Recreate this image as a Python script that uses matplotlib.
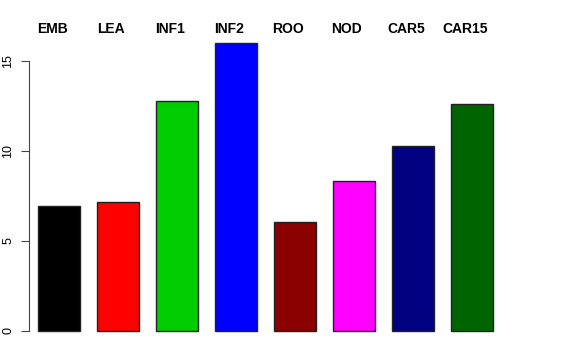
import matplotlib
matplotlib.use('Agg')
import matplotlib.pyplot as plt

# data
labels = ['EMB', 'LEA', 'INF1', 'INF2', 'ROO', 'NOD', 'CAR5', 'CAR15']
values = [6.94, 7.17, 12.78, 16.0, 6.06, 8.33, 10.28, 12.61]
colors = ['#000000', '#FF0000', '#00CD00', '#0000FF', '#8B0000', '#FF00FF', '#000080', '#006400']
yticks = [0, 5, 10, 15]

plt.rcParams['font.family'] = ['Liberation Sans', 'DejaVu Sans']

W, H = 576, 360
fig = plt.figure(figsize=(W / 100, H / 100), dpi=100)
# axes in pixel units: left at the y-axis line, bottom at y=0
left_px, right_px, bottom_px, top_px = 29, 560, 331, 25
ax = fig.add_axes([left_px / W, (H - bottom_px) / H,
                   (right_px - left_px) / W, (bottom_px - top_px) / H])

pitch = 59.0
x0 = -(59 - left_px) / pitch
x1 = (right_px - 59) / pitch
ppu = 18.0
ax.set_xlim(x0, x1)
ax.set_ylim(0, (bottom_px - top_px) / ppu)

xs = list(range(len(values)))
ax.bar(xs, values, width=0.7, color=colors, edgecolor='#222222', linewidth=1.0, clip_on=False)

# category labels above the plot
for x, lab in zip(xs, labels):
    ax.text(x - 7 / pitch, (bottom_px - 29) / ppu, lab, ha='center', va='center',
            fontsize=10, fontweight='bold')

for s in ['top', 'right', 'bottom']:
    ax.spines[s].set_visible(False)
ax.spines['left'].set_bounds(0, 15)
ax.spines['left'].set_color('#444444')
ax.set_xticks([])
ax.set_yticks(yticks)
ax.set_yticklabels([str(t) for t in yticks], rotation=90, va='center', fontsize=9)
ax.tick_params(axis='y', length=5.5, pad=5, color='#444444')

fig.savefig('out.png', dpi=100)
